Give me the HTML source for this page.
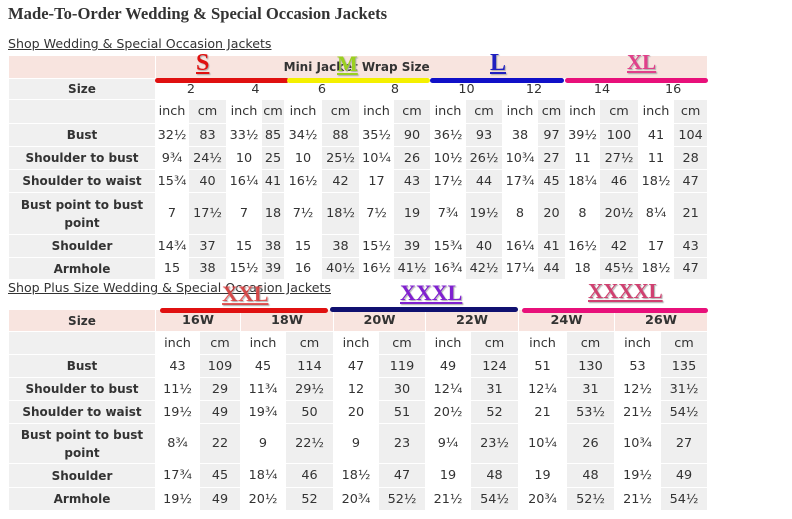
<!DOCTYPE html>
<html><head><meta charset="utf-8"><style>
body{margin:0;background:#fff;width:792px;height:519px;position:relative;overflow:hidden;font-family:"DejaVu Sans","Liberation Sans",sans-serif;color:#333}
.t{position:absolute;border-collapse:collapse;table-layout:fixed;font-size:12.8px}
.t td{border:1px solid #fff;padding:0;text-align:center;white-space:nowrap;overflow:hidden}
.t td.l{background:#f0f0f0;font-weight:bold;font-size:12px;white-space:normal;line-height:18px}
.t tr td.g{background:#efefef}
.pk td{background:#f8e4df}
.ln{position:absolute;height:5px;border-radius:3px}
.big{position:absolute;font-family:"Liberation Serif",serif;font-weight:bold;text-decoration:underline;font-size:24px;text-shadow:1px 1px 1px #aaa}
.link{position:absolute;left:8px;font-size:12.6px;text-decoration:underline;color:#333}
</style></head><body>
<div style="position:absolute;left:8px;top:4px;font-family:'Liberation Serif',serif;font-weight:bold;font-size:16.6px;color:#333">Made-To-Order Wedding &amp; Special Occasion Jackets</div>
<div class="link" style="top:36px">Shop Wedding &amp; Special Occasion Jackets</div>

<table class="t" style="left:8px;top:55px;width:699px">
<colgroup><col style="width:147px"><col style="width:33px"><col style="width:38px"><col style="width:35px"><col style="width:23px"><col style="width:37px"><col style="width:38px"><col style="width:34px"><col style="width:37px"><col style="width:35px"><col style="width:37px"><col style="width:35px"><col style="width:28px"><col style="width:34px"><col style="width:39px"><col style="width:35px"><col style="width:34px"></colgroup>
<tr class="pk" style="height:23px"><td></td><td colspan="16" style="font-weight:bold;font-size:12px;padding-right:150px">Mini Jacket Wrap Size</td></tr>
<tr style="height:21px"><td class="l">Size</td><td colspan="2">2</td><td colspan="2">4</td><td colspan="2">6</td><td colspan="2">8</td><td colspan="2">10</td><td colspan="2">12</td><td colspan="2">14</td><td colspan="2">16</td></tr>
<tr style="height:24px"><td class="l"></td><td>inch</td><td class="g">cm</td><td>inch</td><td class="g">cm</td><td>inch</td><td class="g">cm</td><td>inch</td><td class="g">cm</td><td>inch</td><td class="g">cm</td><td>inch</td><td class="g">cm</td><td>inch</td><td class="g">cm</td><td>inch</td><td class="g">cm</td></tr>
<tr style="height:23px"><td class="l">Bust</td><td>32½</td><td class="g">83</td><td>33½</td><td class="g">85</td><td>34½</td><td class="g">88</td><td>35½</td><td class="g">90</td><td>36½</td><td class="g">93</td><td>38</td><td class="g">97</td><td>39½</td><td class="g">100</td><td>41</td><td class="g">104</td></tr>
<tr style="height:23px"><td class="l">Shoulder to bust</td><td>9¾</td><td class="g">24½</td><td>10</td><td class="g">25</td><td>10</td><td class="g">25½</td><td>10¼</td><td class="g">26</td><td>10½</td><td class="g">26½</td><td>10¾</td><td class="g">27</td><td>11</td><td class="g">27½</td><td>11</td><td class="g">28</td></tr>
<tr style="height:23px"><td class="l">Shoulder to waist</td><td>15¾</td><td class="g">40</td><td>16¼</td><td class="g">41</td><td>16½</td><td class="g">42</td><td>17</td><td class="g">43</td><td>17½</td><td class="g">44</td><td>17¾</td><td class="g">45</td><td>18¼</td><td class="g">46</td><td>18½</td><td class="g">47</td></tr>
<tr style="height:42px"><td class="l">Bust point to bust point</td><td>7</td><td class="g">17½</td><td>7</td><td class="g">18</td><td>7½</td><td class="g">18½</td><td>7½</td><td class="g">19</td><td>7¾</td><td class="g">19½</td><td>8</td><td class="g">20</td><td>8</td><td class="g">20½</td><td>8¼</td><td class="g">21</td></tr>
<tr style="height:23px"><td class="l">Shoulder</td><td>14¾</td><td class="g">37</td><td>15</td><td class="g">38</td><td>15</td><td class="g">38</td><td>15½</td><td class="g">39</td><td>15¾</td><td class="g">40</td><td>16¼</td><td class="g">41</td><td>16½</td><td class="g">42</td><td>17</td><td class="g">43</td></tr>
<tr style="height:22px"><td class="l">Armhole</td><td>15</td><td class="g">38</td><td>15½</td><td class="g">39</td><td>16</td><td class="g">40½</td><td>16½</td><td class="g">41½</td><td>16¾</td><td class="g">42½</td><td>17¼</td><td class="g">44</td><td>18</td><td class="g">45½</td><td>18½</td><td class="g">47</td></tr>
</table>
<div class="ln" style="left:155px;top:78px;width:134px;background:#e01010"></div>
<div class="ln" style="left:287px;top:78px;width:143px;background:#f4f000"></div>
<div class="ln" style="left:430px;top:78px;width:134px;background:#1010c8"></div>
<div class="ln" style="left:565px;top:78px;width:143px;background:#e8107a"></div>
<div class="big" style="left:196px;top:50px;color:#e01010">S</div>
<div class="big" style="left:337px;top:51px;color:#9ad020;font-size:22px">M</div>
<div class="big" style="left:490px;top:50px;color:#2020c0">L</div>
<div class="big" style="left:627px;top:50px;color:#e0408a;font-size:21px">XL</div>

<div class="link" style="top:280px">Shop Plus Size Wedding &amp; Special Occasion Jackets</div>
<table class="t" style="left:8px;top:309px;width:699px">
<colgroup><col style="width:147px"><col style="width:44px"><col style="width:41px"><col style="width:45px"><col style="width:48px"><col style="width:45px"><col style="width:47px"><col style="width:45px"><col style="width:48px"><col style="width:48px"><col style="width:48px"><col style="width:46px"><col style="width:47px"></colgroup>
<tr class="pk" style="height:22px"><td style="font-weight:bold;font-size:12px">Size</td><td colspan="2" style="font-weight:bold">16W</td><td colspan="2" style="font-weight:bold">18W</td><td colspan="2" style="font-weight:bold">20W</td><td colspan="2" style="font-weight:bold">22W</td><td colspan="2" style="font-weight:bold">24W</td><td colspan="2" style="font-weight:bold">26W</td></tr>
<tr style="height:23px"><td class="l"></td><td>inch</td><td class="g">cm</td><td>inch</td><td class="g">cm</td><td>inch</td><td class="g">cm</td><td>inch</td><td class="g">cm</td><td>inch</td><td class="g">cm</td><td>inch</td><td class="g">cm</td></tr>
<tr style="height:23px"><td class="l">Bust</td><td>43</td><td class="g">109</td><td>45</td><td class="g">114</td><td>47</td><td class="g">119</td><td>49</td><td class="g">124</td><td>51</td><td class="g">130</td><td>53</td><td class="g">135</td></tr>
<tr style="height:23px"><td class="l">Shoulder to bust</td><td>11½</td><td class="g">29</td><td>11¾</td><td class="g">29½</td><td>12</td><td class="g">30</td><td>12¼</td><td class="g">31</td><td>12¼</td><td class="g">31</td><td>12½</td><td class="g">31½</td></tr>
<tr style="height:23px"><td class="l">Shoulder to waist</td><td>19½</td><td class="g">49</td><td>19¾</td><td class="g">50</td><td>20</td><td class="g">51</td><td>20½</td><td class="g">52</td><td>21</td><td class="g">53½</td><td>21½</td><td class="g">54½</td></tr>
<tr style="height:40px"><td class="l">Bust point to bust point</td><td>8¾</td><td class="g">22</td><td>9</td><td class="g">22½</td><td>9</td><td class="g">23</td><td>9¼</td><td class="g">23½</td><td>10¼</td><td class="g">26</td><td>10¾</td><td class="g">27</td></tr>
<tr style="height:24px"><td class="l">Shoulder</td><td>17¾</td><td class="g">45</td><td>18¼</td><td class="g">46</td><td>18½</td><td class="g">47</td><td>19</td><td class="g">48</td><td>19</td><td class="g">48</td><td>19½</td><td class="g">49</td></tr>
<tr style="height:23px"><td class="l">Armhole</td><td>19½</td><td class="g">49</td><td>20½</td><td class="g">52</td><td>20¾</td><td class="g">52½</td><td>21½</td><td class="g">54½</td><td>20¾</td><td class="g">52½</td><td>21½</td><td class="g">54½</td></tr>
</table>
<div class="ln" style="left:160px;top:308px;width:168px;background:#e01010"></div>
<div class="ln" style="left:330px;top:307px;width:188px;background:#101070"></div>
<div class="ln" style="left:522px;top:308px;width:186px;background:#e8107a"></div>
<div class="big" style="left:222px;top:281px;color:rgba(224,40,40,0.75);font-size:22px">XXL</div>
<div class="big" style="left:400px;top:280px;color:#8020d0;font-size:22px">XXXL</div>
<div class="big" style="left:588px;top:279px;color:#d04070;font-size:21px">XXXXL</div>
</body></html>
